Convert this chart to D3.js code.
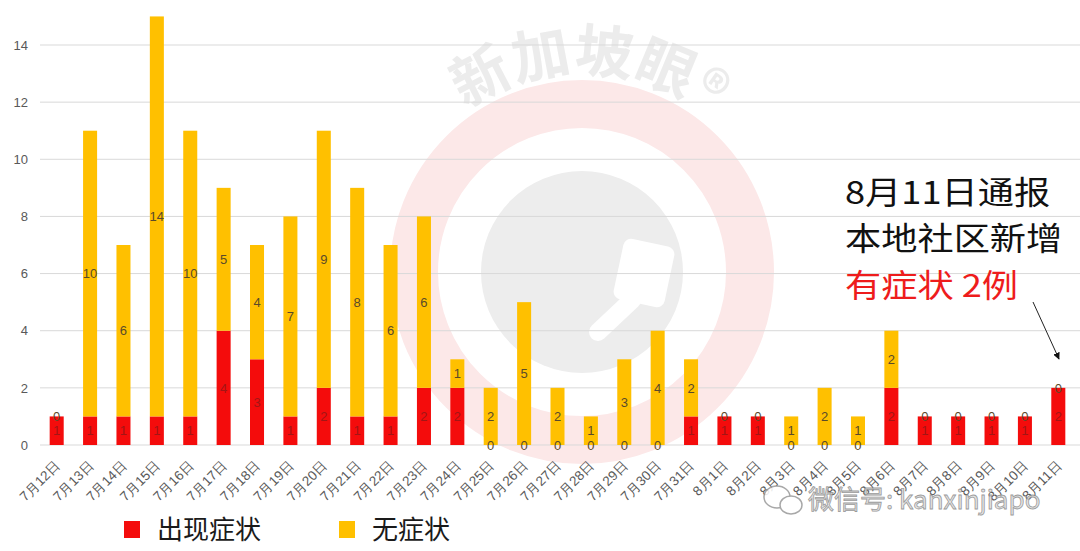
<!DOCTYPE html>
<html>
<head>
<meta charset="utf-8">
<script src="https://cdn.jsdelivr.net/npm/d3@7"></script>
<style>
  body { margin: 0; background: #fff; }
  svg { display: block; font-family: "Noto Sans CJK SC", "Noto Sans", sans-serif; }
</style>
</head>
<body>
<svg id="chart"></svg>
<script>
// Chart data *****************************************************************
const dates = ["7月12日","7月13日","7月14日","7月15日","7月16日","7月17日","7月18日","7月19日",
  "7月20日","7月21日","7月22日","7月23日","7月24日","7月25日","7月26日","7月27日","7月28日",
  "7月29日","7月30日","7月31日","8月1日","8月2日","8月3日","8月4日","8月5日","8月6日",
  "8月7日","8月8日","8月9日","8月10日","8月11日"];
const symptomatic  = [1,1,1,1,1,4,3,1,2,1,1,2,2,0,0,0,0,0,0,1,1,1,0,0,0,2,1,1,1,1,2]; // 出现症状
const asymptomatic = [0,10,6,14,10,5,4,7,9,8,6,6,1,2,5,2,1,3,4,2,0,0,1,2,1,2,0,0,0,0,0]; // 无症状
const yTicks = [0,2,4,6,8,10,12,14];
const seriesNames = ["出现症状", "无症状"];
const seriesColors = ["#f40c0c", "#ffc000"];
const noteLines = ["8月11日通报", "本地社区新增", "有症状 2例"];

const width = 1080, height = 551;

const svg = d3.select("#chart")
    .attr("width", width)
    .attr("height", height);

// Watermark (behind everything) ********************************************
const wm = svg.append("g").attr("class", "watermark");
const wmX = 582, wmY = 272;
wm.append("circle")   // faint pink ring
    .attr("cx", wmX).attr("cy", wmY).attr("r", 168)
    .attr("fill", "none")
    .attr("stroke", "#fce8e8")
    .attr("stroke-width", 48);
wm.append("circle")   // grey disc
    .attr("cx", wmX).attr("cy", wmY).attr("r", 101)
    .attr("fill", "#ededed");
wm.append("rect")     // white lens shape
    .attr("x", 618).attr("y", 242).attr("width", 52).attr("height", 62).attr("rx", 8)
    .attr("fill", "#fff")
    .attr("transform", "rotate(12,644,273)");
wm.append("line")     // white handle
    .attr("x1", 598).attr("y1", 332).attr("x2", 632).attr("y2", 300)
    .attr("stroke", "#fff").attr("stroke-width", 18).attr("stroke-linecap", "round");

// Arched brand text above the ring
wm.append("path")
    .attr("id", "wmArc")
    .attr("d", `M ${wmX - 200},${wmY} A 200 200 0 0 1 ${wmX + 200},${wmY}`)
    .attr("fill", "none");
wm.append("text")
    .style("font-size", "58px")
    .style("font-weight", "bold")
    .attr("fill", "#ececec")
    .append("textPath")
    .attr("href", "#wmArc")
    .attr("startOffset", "51%")
    .attr("text-anchor", "middle")
    .text("新加坡眼®");

// Scales *********************************************************************
const x = d3.scaleBand()
    .domain(dates)
    .range([40, 1075])
    .paddingInner(0.58)
    .paddingOuter(0.29);

const y = d3.scaleLinear()
    .domain([0, 14])
    .range([445, 45]);

// Gridlines
svg.append("g")
    .selectAll("line")
    .data(yTicks)
    .enter().append("line")
    .attr("x1", 40).attr("x2", width)
    .attr("y1", d => y(d)).attr("y2", d => y(d))
    .attr("stroke", "#d9d9d9")
    .attr("stroke-width", 1);

// Y axis labels
const yAxis = svg.append("g")
    .attr("transform", "translate(28,0)")
    .call(d3.axisLeft(y).tickValues(yTicks).tickSize(0).tickPadding(0));
yAxis.select(".domain").remove();
yAxis.selectAll("text")
    .style("font-family", "'Liberation Sans', sans-serif")
    .style("font-size", "13px")
    .attr("fill", "#595959");

// Stacked bars ***************************************************************
const rows = dates.map((d, i) => ({date: d, s0: symptomatic[i], s1: asymptomatic[i]}));
const stacked = d3.stack().keys(["s0", "s1"])(rows);

const layers = svg.append("g")
    .selectAll("g")
    .data(stacked)
    .enter().append("g")
    .attr("fill", (d, i) => seriesColors[i]);

layers.selectAll("rect")
    .data(d => d)
    .enter().append("rect")
    .attr("x", d => x(d.data.date))
    .attr("y", d => y(d[1]))
    .attr("width", x.bandwidth())
    .attr("height", d => y(d[0]) - y(d[1]));

// Segment value labels (Excel style, centred on each segment)
const labels = svg.append("g")
    .style("font-family", "'Liberation Sans', sans-serif")
    .style("font-size", "13px")
    .attr("text-anchor", "middle");

stacked.forEach((layer, li) => {
    labels.selectAll(null)
        .data(layer)
        .enter().append("text")
        .attr("x", d => x(d.data.date) + x.bandwidth() / 2)
        .attr("y", d => (y(d[0]) + y(d[1])) / 2)
        .attr("dy", "0.36em")
        .attr("fill", d => {
            const v = d[1] - d[0];
            if (li === 0 && v > 0) return "#a31515";  // sits on red
            return "#5a4a2a";
        })
        .text(d => d[1] - d[0]);
});

// X axis labels, rotated
const xAxis = svg.append("g")
    .attr("transform", "translate(0,449)")
    .call(d3.axisBottom(x).tickSize(0).tickPadding(0));
xAxis.select(".domain").remove();
xAxis.selectAll("text")
    .style("font-size", "13.5px")
    .attr("fill", "#595959")
    .attr("text-anchor", "end")
    .attr("x", 0).attr("y", 0)
    .attr("dy", "0.35em")
    .attr("transform", "translate(1,14) rotate(-45)");

// Legend *********************************************************************
const legend = svg.append("g");
const legendX = [124, 339];
seriesNames.forEach((name, i) => {
    legend.append("rect")
        .attr("x", legendX[i]).attr("y", 521)
        .attr("width", 16).attr("height", 17)
        .attr("fill", seriesColors[i]);
    legend.append("text")
        .attr("x", legendX[i] + 33).attr("y", 539)
        .style("font-size", "26px")
        .attr("fill", "#1a1a1a")
        .text(name);
});

// Annotation: slightly widened glyphs so line boxes don't collide ***********
const note = svg.append("g")
    .attr("transform", "translate(845,0) scale(1.15,1)")
    .style("font-size", "31.5px");
noteLines.forEach((t, i) => {
    note.append("text")
        .attr("x", 0)
        .attr("y", 204 + i * 46.5)
        .attr("fill", i === 2 ? "#ee1c1c" : "#111")
        .text(t);
});

svg.append("defs").append("marker")
    .attr("id", "arrowHead")
    .attr("viewBox", "0 0 10 10")
    .attr("refX", 9).attr("refY", 5)
    .attr("markerWidth", 7).attr("markerHeight", 7)
    .attr("orient", "auto")
    .append("path")
    .attr("d", "M0,0 L10,5 L0,10 Z")
    .attr("fill", "#111");

svg.append("line")
    .attr("x1", 1033).attr("y1", 302)
    .attr("x2", 1059).attr("y2", 359)
    .attr("stroke", "#222")
    .attr("stroke-width", 1)
    .attr("marker-end", "url(#arrowHead)");

// WeChat id watermark (front) ***********************************************
const wc = svg.append("g").attr("opacity", 0.85);
wc.append("ellipse")
    .attr("cx", 777).attr("cy", 497).attr("rx", 13).attr("ry", 11)
    .attr("fill", "#fff").attr("stroke", "#999").attr("stroke-width", 1.5);
wc.append("ellipse")
    .attr("cx", 791).attr("cy", 505).attr("rx", 11).attr("ry", 9)
    .attr("fill", "#fff").attr("stroke", "#999").attr("stroke-width", 1.5);
wc.append("text")
    .attr("x", 808).attr("y", 509)
    .style("font-size", "26px")
    .attr("fill", "#e0e0e0")
    .attr("stroke", "#8a8a8a")
    .attr("stroke-width", 0.8)
    .text("微信号: kanxinjiapo");
</script>
</body>
</html>
